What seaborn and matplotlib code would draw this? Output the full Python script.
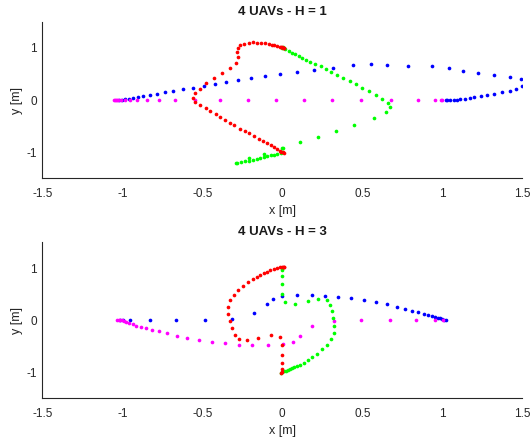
#Plotting UAV trajectories for two horizon values
import pandas as pd
import matplotlib
matplotlib.use('Agg')
import matplotlib.pyplot as plt
import seaborn as sns

#H = 1 trajectories
h1_magenta_x = [-1.05, -1.045, -1.04, -1.035, -1.025, -1.01, -0.98, -0.95, -0.905, -0.845, -0.77, -0.67,
                -0.545, -0.39, -0.215, -0.04, 0.135, 0.31, 0.49, 0.68, 0.845, 0.955, 0.99, 1.0]
h1_magenta_y = [0.0, 0.0, 0.0, 0.0, 0.0, 0.0, 0.0, 0.0, 0.0, 0.0, 0.0, 0.0,
                0.0, 0.0, 0.0, 0.0, 0.0, 0.0, 0.0, 0.0, 0.0, 0.0, 0.0, 0.0]

h1_blue_x = [-1.02, -1.0, -0.98, -0.96, -0.93, -0.90, -0.87, -0.825, -0.78, -0.73, -0.68, -0.62, -0.56,
             -0.49, -0.42, -0.35, -0.275, -0.195, -0.108, -0.0125, 0.092, 0.20, 0.317, 0.44, 0.554,
             0.654, 0.786, 0.9375, 1.04, 1.13, 1.22, 1.32, 1.42, 1.49, 1.52, 1.496, 1.46, 1.42, 1.37,
             1.32, 1.28, 1.24, 1.20, 1.17, 1.14, 1.11, 1.09, 1.07, 1.05, 1.03, 1.02]
h1_blue_y = [0.0, 0.0, 0.013, 0.025, 0.04, 0.06, 0.08, 0.10, 0.12, 0.15, 0.17, 0.21, 0.24,
             0.27, 0.31, 0.34, 0.38, 0.42, 0.46, 0.50, 0.53, 0.58, 0.62, 0.67, 0.69,
             0.67, 0.65, 0.65, 0.61, 0.56, 0.52, 0.49, 0.44, 0.40, 0.33, 0.26, 0.22, 0.18, 0.15,
             0.115, 0.096, 0.07, 0.05, 0.03, 0.02, 0.01, 0.0, 0.0, 0.0, 0.0, 0.0]

h1_green_x = [0.0, 0.004, 0.019, 0.04, 0.06, 0.081, 0.102, 0.123, 0.148, 0.175, 0.206, 0.24, 0.27,
              0.304, 0.34, 0.377, 0.42, 0.458, 0.50, 0.54, 0.583, 0.625, 0.658, 0.67, 0.65, 0.575,
              0.45, 0.333, 0.22, 0.108, -0.002, 0.002, 0.0, -0.011, -0.0316, -0.0525, -0.073, -0.094,
              -0.115, -0.1375, -0.158, -0.185, -0.21, -0.21, -0.234, -0.26, -0.283, -0.29, -0.115]
h1_green_y = [1.0, 1.01, 0.99, 0.95, 0.91, 0.88, 0.846, 0.81, 0.776, 0.73, 0.686, 0.65, 0.59,
              0.53, 0.48, 0.42, 0.365, 0.30, 0.237, 0.17, 0.096, 0.02, -0.058, -0.14, -0.24, -0.35,
              -0.48, -0.596, -0.705, -0.81, -0.92, -0.93, -0.99, -1.01, -1.03, -1.05, -1.06, -1.077,
              -1.09, -1.11, -1.13, -1.147, -1.115, -1.167, -1.18, -1.19, -1.21, -1.22, -1.03]

h1_red_x = [0.002, -0.006, 0.008, -0.0125, -0.031, -0.05, -0.073, -0.096, -0.119, -0.146, -0.177,
            -0.206, -0.235, -0.267, -0.302, -0.33, -0.36, -0.3875, -0.417, -0.45, -0.479, -0.5125,
            -0.544, -0.558, -0.548, -0.5125, -0.475, -0.425, -0.377, -0.329, -0.29, -0.277, -0.283,
            -0.279, -0.2625, -0.2375, -0.21, -0.185, -0.158, -0.133, -0.106, -0.085, -0.065, -0.05,
            -0.0333, -0.0167, -0.01, -0.002, 0.004, 0.008, 0.0125]
h1_red_y = [-1.0, -0.99, -1.01, -0.974, -0.94, -0.91, -0.87, -0.833, -0.79, -0.744, -0.69,
            -0.64, -0.596, -0.55, -0.49, -0.436, -0.385, -0.33, -0.276, -0.22, -0.157, -0.10,
            -0.045, 0.032, 0.128, 0.218, 0.32, 0.423, 0.51, 0.606, 0.705, 0.82, 0.917,
            0.994, 1.05, 1.077, 1.096, 1.11, 1.103, 1.103, 1.09, 1.077, 1.064, 1.05,
            1.038, 1.026, 1.02, 1.013, 1.005, 1.0, 0.994]

#H = 3 trajectories
h3_magenta_x = [-1.03, -1.023, -1.0125, -1.0, -0.99, -0.975, -0.956, -0.935, -0.9125, -0.885, -0.852,
                -0.817, -0.773, -0.721, -0.66, -0.596, -0.52, -0.44, -0.356, -0.27, -0.1875, -0.0917,
                0.002, 0.065, 0.109, 0.1875, 0.325, 0.494, 0.673, 0.833, 0.954, 1.002]
h3_magenta_y = [0.01, 0.006, 0.0, -0.006, -0.019, -0.038, -0.058, -0.083, -0.109, -0.135, -0.16,
                -0.186, -0.218, -0.256, -0.30, -0.34, -0.385, -0.417, -0.45, -0.474, -0.487, -0.487,
                -0.468, -0.417, -0.30, -0.12, -0.013, 0.006, 0.006, 0.006, 0.0, 0.0]

h3_blue_x = [-1.0125, -0.996, -0.95, -0.829, -0.665, -0.4854, -0.3125, -0.177, -0.0979, -0.058, 0.0,
             0.092, 0.1875, 0.267, 0.35, 0.431, 0.51, 0.585, 0.654, 0.715, 0.767, 0.8125, 0.85,
             0.883, 0.91, 0.933, 0.954, 0.971, 0.9875, 1.0, 1.0125, 1.02]
h3_blue_y = [0.006, 0.006, 0.006, 0.006, 0.006, 0.006, 0.026, 0.135, 0.314, 0.41, 0.46,
             0.474, 0.48, 0.46, 0.44, 0.417, 0.378, 0.34, 0.30, 0.256, 0.218, 0.18, 0.147,
             0.12, 0.096, 0.077, 0.058, 0.045, 0.032, 0.013, 0.0, 0.0]

h3_green_x = [0.0, 0.0, 0.0, 0.0, 0.0, 0.0167, 0.079, 0.16, 0.225, 0.277, 0.296, 0.308, 0.319,
              0.325, 0.321, 0.302, 0.279, 0.248, 0.217, 0.185, 0.158, 0.133, 0.11, 0.092, 0.075,
              0.06, 0.046, 0.033, 0.021, 0.008, -0.002, -0.008]
h3_green_y = [1.0, 0.96, 0.846, 0.686, 0.506, 0.346, 0.314, 0.372, 0.404, 0.378, 0.288, 0.167, 0.032,
              -0.115, -0.244, -0.365, -0.474, -0.564, -0.647, -0.718, -0.776, -0.821, -0.859, -0.885, -0.91,
              -0.929, -0.949, -0.962, -0.974, -0.987, -1.0, -1.013]

h3_red_x = [-0.006, -0.002, 0.0, -0.002, -0.002, -0.002, -0.0125, -0.0708, -0.15, -0.219, -0.273,
            -0.296, -0.3125, -0.329, -0.34, -0.342, -0.329, -0.304, -0.275, -0.246, -0.215, -0.185,
            -0.158, -0.1375, -0.117, -0.096, -0.075, -0.054, -0.033, -0.0125, -0.004, 0.004, 0.008, 0.012]
h3_red_y = [-1.02, -0.994, -0.949, -0.833, -0.667, -0.481, -0.333, -0.295, -0.353, -0.39, -0.365,
            -0.282, -0.16, -0.019, 0.122, 0.256, 0.378, 0.487, 0.583, 0.66, 0.73, 0.782,
            0.827, 0.865, 0.897, 0.929, 0.955, 0.981, 1.006, 1.026, 1.02, 1.026, 1.02, 1.024]

titles = ['4 UAVs - H = 1', '4 UAVs - H = 3']

#Building the tables for seaborn
def make_df(bx, by, mx, my, gx, gy, rx, ry):
    parts = []
    for name, xs, ys in [('blue', bx, by), ('magenta', mx, my), ('green', gx, gy), ('red', rx, ry)]:
        parts.append(pd.DataFrame({'x': xs, 'y': ys, 'uav': name}))
    return pd.concat(parts, ignore_index=True)

df1 = make_df(h1_blue_x, h1_blue_y, h1_magenta_x, h1_magenta_y,
              h1_green_x, h1_green_y, h1_red_x, h1_red_y)
df3 = make_df(h3_blue_x, h3_blue_y, h3_magenta_x, h3_magenta_y,
              h3_green_x, h3_green_y, h3_red_x, h3_red_y)

sns.set_style('white')
plt.rcParams['font.family'] = ['Liberation Sans', 'DejaVu Sans']

palette = {'blue': (0, 0, 1), 'magenta': (1, 0, 1), 'green': (0, 1, 0), 'red': (1, 0, 0)}

fig, axes = plt.subplots(2, 1, figsize=(5.3, 4.44), dpi=100)
fig.subplots_adjust(left=0.0798, right=0.9855, top=0.9505, bottom=0.1034, hspace=0.41)

for ax, df, title in zip(axes, [df1, df3], titles):
    for name in ['blue', 'magenta', 'green', 'red']:
        sns.scatterplot(data=df[df['uav'] == name], x='x', y='y', color=palette[name],
                        s=7, linewidth=0, ax=ax, legend=False)
    ax.set_xlim(-1.5, 1.5)
    ax.set_ylim(-1.5, 1.5)
    ax.set_xticks([-1.5, -1, -0.5, 0, 0.5, 1, 1.5])
    ax.set_xticklabels(['-1.5', '-1', '-0.5', '0', '0.5', '1', '1.5'])
    ax.set_yticks([-1, 0, 1])
    ax.set_yticklabels(['-1', '0', '1'])
    ax.set_title(title, fontsize=9.5, fontweight='bold', pad=5, color='#1a1a1a')
    ax.set_xlabel('x [m]', fontsize=9, color='#262626', labelpad=4)
    ax.set_ylabel('y [m]', fontsize=9, color='#262626', labelpad=2)
    ax.tick_params(direction='in', length=3.5, width=0.8, labelsize=8.5, colors='#262626')
    ax.tick_params(axis='x', pad=7)
    ax.tick_params(axis='y', pad=4)
    sns.despine(ax=ax)
    for sp in ['left', 'bottom']:
        ax.spines[sp].set_color('#262626')
        ax.spines[sp].set_linewidth(0.8)

fig.savefig('out.png', dpi=100)
